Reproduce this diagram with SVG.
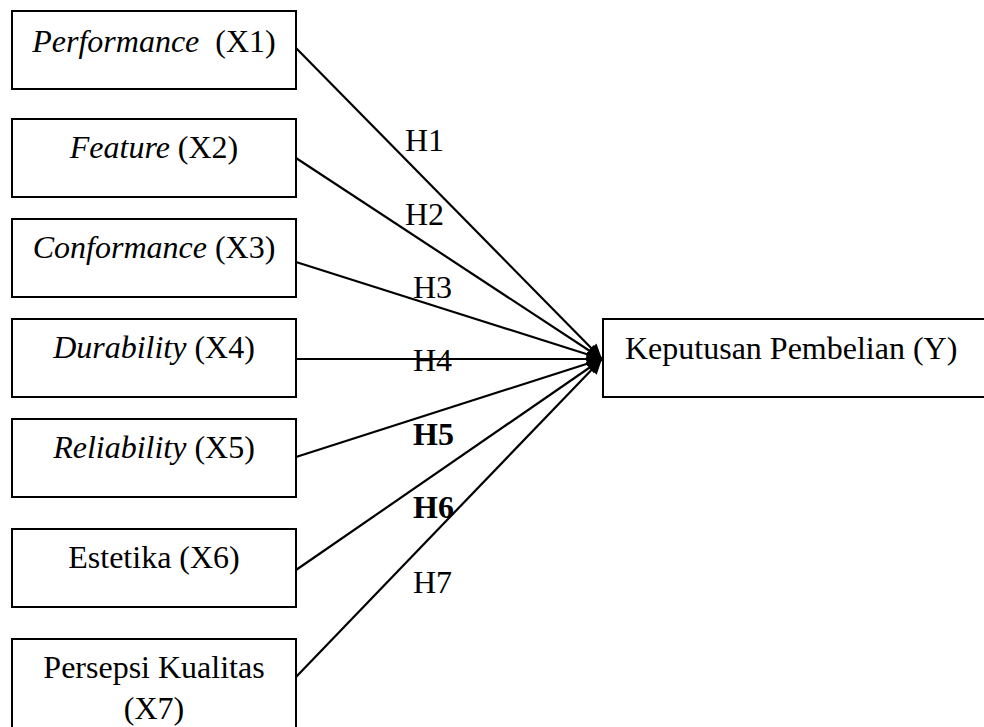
<svg xmlns="http://www.w3.org/2000/svg" width="984" height="727" viewBox="0 0 984 727">
<style>
  .box { fill: #ffffff; stroke: #000000; stroke-width: 2; }
  .t { font-family: "Liberation Serif", "Times New Roman", serif; font-size: 32px; fill: #000000; }
  .c { text-anchor: middle; }
  .i { font-style: italic; }
  .b { font-weight: bold; }
  .edge { stroke: #000000; stroke-width: 2.2; fill: none; marker-end: url(#arrow); }
</style>
<defs>
  <marker id="arrow" markerUnits="userSpaceOnUse" markerWidth="15" markerHeight="14" refX="15" refY="7" orient="auto">
    <path d="M0,0 L15,7 L0,14 z" fill="#000000"/>
  </marker>
</defs>
<rect width="984" height="727" fill="#ffffff"/>
<g id="connectors">
  <line class="edge" x1="296" y1="48" x2="602" y2="359"/>
  <line class="edge" x1="296" y1="158" x2="602" y2="359"/>
  <line class="edge" x1="296" y1="262" x2="602" y2="359"/>
  <line class="edge" x1="296" y1="359" x2="602" y2="359"/>
  <line class="edge" x1="296" y1="457" x2="602" y2="359"/>
  <line class="edge" x1="296" y1="570" x2="602" y2="359"/>
  <line class="edge" x1="296" y1="677" x2="602" y2="359"/>
  <text class="t" x="405" y="151">H1</text>
  <text class="t" x="405" y="225">H2</text>
  <text class="t" x="413" y="298">H3</text>
  <text class="t" x="413" y="371">H4</text>
  <text class="t b" x="413" y="445">H5</text>
  <text class="t b" x="413" y="518">H6</text>
  <text class="t" x="413" y="593">H7</text>
</g>
<g id="x1">
  <rect class="box" x="12" y="11" width="284" height="78"/>
  <text class="t c" x="154" y="52" xml:space="preserve"><tspan class="i">Performance</tspan>  (X1)</text>
</g>
<g id="x2">
  <rect class="box" x="12" y="119" width="284" height="78"/>
  <text class="t c" x="154" y="158" xml:space="preserve"><tspan class="i">Feature</tspan> (X2)</text>
</g>
<g id="x3">
  <rect class="box" x="12" y="219" width="284" height="78"/>
  <text class="t c" x="154" y="258" xml:space="preserve"><tspan class="i">Conformance</tspan> (X3)</text>
</g>
<g id="x4">
  <rect class="box" x="12" y="319" width="284" height="78"/>
  <text class="t c" x="154" y="358" xml:space="preserve"><tspan class="i">Durability</tspan> (X4)</text>
</g>
<g id="x5">
  <rect class="box" x="12" y="419" width="284" height="78"/>
  <text class="t c" x="154" y="458" xml:space="preserve"><tspan class="i">Reliability</tspan> (X5)</text>
</g>
<g id="x6">
  <rect class="box" x="12" y="529" width="284" height="78"/>
  <text class="t c" x="154" y="568">Estetika (X6)</text>
</g>
<g id="x7">
  <rect class="box" x="12" y="639" width="284" height="110"/>
  <text class="t c" x="154" y="678">Persepsi Kualitas</text>
  <text class="t c" x="154" y="719">(X7)</text>
</g>
<g id="y">
  <rect class="box" x="603" y="319" width="390" height="78"/>
  <text class="t" x="625" y="359">Keputusan Pembelian (Y)</text>
</g>
</svg>
